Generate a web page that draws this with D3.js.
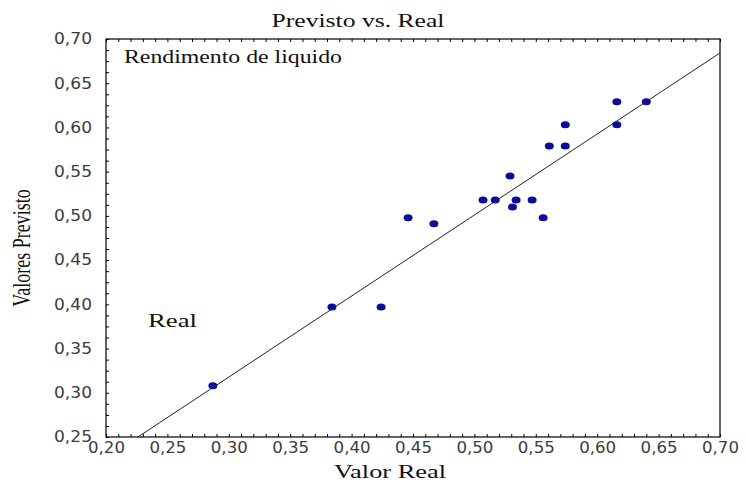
<!DOCTYPE html>
<html lang="pt">

<head>
    <meta charset="UTF-8">
    <title>Previsto vs. Real</title>
    <style>
        body {
            margin: 0;
            background: #fff;
        }

        svg {
            display: block;
        }

        .tick-label {
            font-family: "DejaVu Sans", sans-serif;
            font-size: 15px;
            fill: #3c3c3c;
        }

        .serif {
            font-family: "Liberation Serif", "Times New Roman", serif;
            font-size: 18px;
            fill: #111;
        }
    </style>
</head>

<body>
    <svg width="746" height="484"></svg>

    <script src="https://d3js.org/d3.v7.min.js"></script>
    <script>
        // valores
        const realValues = [0.287, 0.384, 0.424, 0.446, 0.467, 0.507, 0.517, 0.529, 0.531, 0.534,
            0.547, 0.556, 0.561, 0.574, 0.574, 0.616, 0.616, 0.640];
        const predictedValues = [0.308, 0.397, 0.397, 0.498, 0.491, 0.518, 0.518, 0.545, 0.510, 0.518,
            0.518, 0.498, 0.579, 0.579, 0.603, 0.603, 0.629, 0.629];
        const xTicks = [0.20, 0.25, 0.30, 0.35, 0.40, 0.45, 0.50, 0.55, 0.60, 0.65, 0.70];
        const yTicks = [0.25, 0.30, 0.35, 0.40, 0.45, 0.50, 0.55, 0.60, 0.65, 0.70];
        // reta ajustada
        const fitIntercept = 0.043;
        const fitSlope = 0.916;

        const svg = d3.select("svg");
        const plot = { left: 106, right: 720, top: 39, bottom: 437 };

        const x = d3.scaleLinear().domain([0.2, 0.7]).range([plot.left, plot.right]);
        const y = d3.scaleLinear().domain([0.25, 0.7]).range([plot.bottom, plot.top]);
        const fmt = d => d3.format(".2f")(d).replace(".", ",");

        // minor ticks voltados para dentro
        const xMinor = d3.range(0, 51).map(i => 0.2 + i * 0.01);
        const yMinor = d3.range(0, 37).map(i => 0.25 + i * 0.0125);

        svg.append("g")
            .attr("transform", `translate(0,${plot.bottom})`)
            .call(d3.axisTop(x).tickValues(xMinor).tickSize(3).tickFormat(""))
            .call(g => g.select(".domain").remove());
        svg.append("g")
            .attr("transform", `translate(0,${plot.top})`)
            .call(d3.axisBottom(x).tickValues(xMinor).tickSize(3).tickFormat(""))
            .call(g => g.select(".domain").remove());
        svg.append("g")
            .attr("transform", `translate(${plot.left},0)`)
            .call(d3.axisRight(y).tickValues(yMinor).tickSize(3).tickFormat(""))
            .call(g => g.select(".domain").remove());

        // labels dos eixos
        svg.append("g")
            .attr("transform", `translate(0,${plot.bottom})`)
            .call(d3.axisBottom(x).tickValues(xTicks).tickSize(0).tickPadding(5).tickFormat(fmt))
            .call(g => g.select(".domain").remove())
            .call(g => g.selectAll("text")
                .attr("class", "tick-label")
                .attr("font-size", null).attr("font-family", null).attr("fill", null)
                .attr("textLength", 37).attr("lengthAdjust", "spacingAndGlyphs"));

        svg.append("g")
            .attr("transform", `translate(${plot.left},0)`)
            .call(d3.axisLeft(y).tickValues(yTicks).tickSize(0).tickPadding(14).tickFormat(fmt))
            .call(g => g.select(".domain").remove())
            .call(g => g.selectAll("text")
                .attr("class", "tick-label")
                .attr("textLength", 38).attr("lengthAdjust", "spacingAndGlyphs"));
        svg.selectAll(".tick-label").attr("fill", null);
        svg.selectAll(".tick").attr("font-size", null);

        // borda
        svg.append("rect")
            .attr("x", plot.left).attr("y", plot.top)
            .attr("width", plot.right - plot.left).attr("height", plot.bottom - plot.top)
            .attr("fill", "none").attr("stroke", "#000").attr("stroke-width", 1.2);

        svg.append("clipPath").attr("id", "clip")
            .append("rect")
            .attr("x", plot.left).attr("y", plot.top)
            .attr("width", plot.right - plot.left).attr("height", plot.bottom - plot.top);

        // reta
        const lineX = [0.2, 0.7];
        svg.append("path")
            .attr("clip-path", "url(#clip)")
            .attr("d", d3.line().x(d => x(d)).y(d => y(fitIntercept + fitSlope * d))(lineX))
            .attr("fill", "none")
            .attr("stroke", "#222")
            .attr("stroke-width", 1);

        // pontos
        svg.append("g")
            .selectAll("ellipse")
            .data(realValues)
            .enter()
            .append("ellipse")
            .attr("cx", d => x(d))
            .attr("cy", (d, i) => y(predictedValues[i]))
            .attr("rx", 4.5)
            .attr("ry", 3.5)
            .attr("fill", "#0c0c9a");

        // textos
        svg.append("text").attr("class", "serif")
            .attr("x", 358).attr("y", 27)
            .attr("text-anchor", "middle")
            .attr("textLength", 173).attr("lengthAdjust", "spacingAndGlyphs")
            .text("Previsto vs. Real");

        svg.append("text").attr("class", "serif")
            .attr("x", 124).attr("y", 63)
            .attr("textLength", 218).attr("lengthAdjust", "spacingAndGlyphs")
            .text("Rendimento de liquido");

        svg.append("text").attr("class", "serif")
            .attr("x", 148).attr("y", 327)
            .attr("textLength", 49).attr("lengthAdjust", "spacingAndGlyphs")
            .text("Real");

        svg.append("text").attr("class", "serif")
            .attr("x", 390).attr("y", 478)
            .attr("text-anchor", "middle")
            .attr("textLength", 112).attr("lengthAdjust", "spacingAndGlyphs")
            .text("Valor Real");

        svg.append("text").attr("class", "serif")
            .attr("transform", "translate(30,248) scale(1.4,1) rotate(-90)")
            .attr("text-anchor", "middle")
            .text("Valores Previsto");
    </script>
</body>

</html>
